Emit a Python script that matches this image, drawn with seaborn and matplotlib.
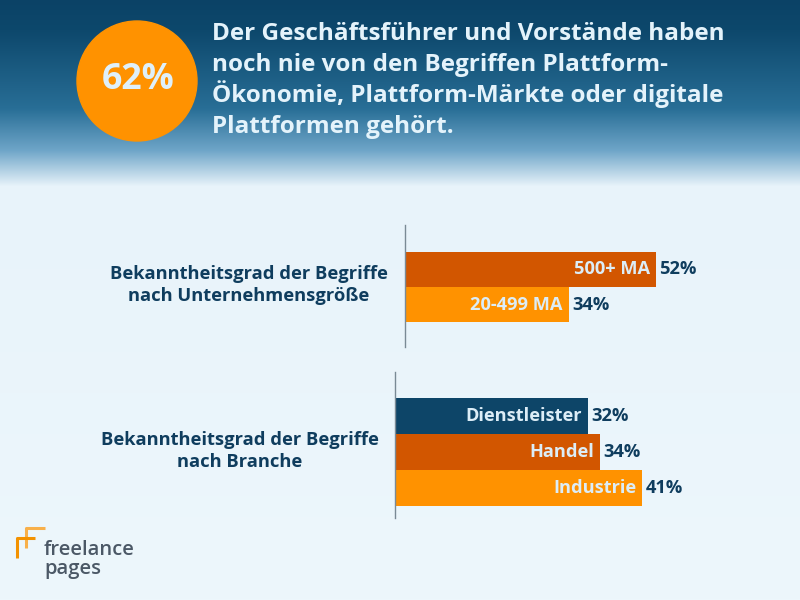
import numpy as np
import pandas as pd
import matplotlib
matplotlib.use("Agg")
import matplotlib.pyplot as plt
from matplotlib.patches import Circle
import seaborn as sns

sns.set_style("white")
plt.rcParams['font.family'] = ['Open Sans', 'DejaVu Sans']

# Data
headline_value = "62%"
headline_lines = ["Der Geschäftsführer und Vorstände haben",
                  "noch nie von den Begriffen Plattform-",
                  "Ökonomie, Plattform-Märkte oder digitale",
                  "Plattformen gehört."]

size_title = "Bekanntheitsgrad der Begriffe\nnach Unternehmensgröße"
size_labels = ["500+ MA", "20-499 MA"]
size_values = [52, 34]

branch_title = "Bekanntheitsgrad der Begriffe\nnach Branche"
branch_labels = ["Dienstleister", "Handel", "Industrie"]
branch_values = [32, 34, 41]

# Colours
navy = "#0d4568"
dark_orange = "#d25600"
orange = "#ff9200"
bar_text = "#dcedf7"
value_text = "#0f3d5e"
bg = "#edf7fc"

W, H = 800, 600
fig = plt.figure(figsize=(8, 6), dpi=100)
fig.patch.set_facecolor(bg)
renderer = fig.canvas.get_renderer()


def rect(left, top, right, bottom):
    return [left / W, 1 - bottom / H, (right - left) / W, (bottom - top) / H]


def pos(x, y):
    return x / W, 1 - y / H


def fit_width(txt, target):
    # scale the font so the text is as wide as in the reference (pixels)
    w = txt.get_window_extent(renderer).width
    txt.set_fontsize(txt.get_fontsize() * target / w)


# background gradient in the header
bg_ax = fig.add_axes([0, 0, 1, 1], zorder=0)
ys = np.linspace(0, 1, 600)
stops_y = [0, 0.05, 0.18, 0.25, 0.31, 1]
stops_c = [(11, 66, 102), (13, 72, 108), (40, 110, 150), (110, 165, 200), (232, 243, 250), (237, 247, 252)]
cols = np.array([[np.interp(y, stops_y, [c[k] for c in stops_c]) for k in range(3)] for y in ys]) / 255
bg_ax.imshow(cols[:, None, :], aspect='auto', extent=[0, 1, 0, 1])
bg_ax.set_axis_off()

# headline circle
head_ax = fig.add_axes([0, 0, 1, 1], zorder=1)
head_ax.set_xlim(0, W)
head_ax.set_ylim(H, 0)
head_ax.set_axis_off()
head_ax.add_patch(Circle((137, 81), 60, color=orange))
t = head_ax.text(138, 80, headline_value, ha='center', va='center', fontsize=27,
                 fontweight='bold', color="#dff0fa")
fit_width(t, 73)
line_size = None
for i, line in enumerate(headline_lines):
    t = head_ax.text(212, 40 + 31 * i, line, ha='left', va='baseline', fontsize=16.5,
                     fontweight='bold', color="#e4f3fb")
    if i == 0:
        fit_width(t, 512)
        line_size = t.get_fontsize()
    t.set_fontsize(line_size)

label_size = {}


def draw_group(ax, labels, values, colors, xmax, ylim, title, title_xy):
    df = pd.DataFrame({'label': labels, 'value': values})
    sns.barplot(data=df, x='value', y='label', hue='label', palette=colors, saturation=1,
                legend=False, width=1, linewidth=0, orient='h', ax=ax)
    ax.set_xlim(0, xmax)
    ax.set_ylim(*ylim)
    ax.set_facecolor('none')
    for s in ['top', 'right', 'bottom']:
        ax.spines[s].set_visible(False)
    ax.spines['left'].set_color('#7a8a95')
    ax.spines['left'].set_linewidth(1)
    ax.set_xticks([])
    ax.set_yticks(list(ylim))
    ax.set_yticklabels([])
    ax.tick_params(axis='y', length=4, width=1, color='#7a8a95', direction='out')
    ax.set_xlabel('')
    ax.set_ylabel('')
    for i, (lab, val) in enumerate(zip(labels, values)):
        ax.annotate(lab, xy=(val, i), xytext=(-4.5, 0), textcoords='offset points',
                    ha='right', va='center', fontsize=label_size['bar'], fontweight='bold',
                    color=bar_text)
        ax.annotate(f"{val}%", xy=(val, i), xytext=(2.5, 0), textcoords='offset points',
                    ha='left', va='center', fontsize=label_size['bar'], fontweight='bold',
                    color=value_text)
    fig.text(*pos(*title_xy), title, ha='center', va='center', fontsize=label_size['title'],
             fontweight='bold', color=value_text, linespacing=1.3)


# work out the label font sizes from reference widths
probe = fig.text(0, 0, "Dienstleister", fontsize=13, fontweight='bold')
fit_width(probe, 116)
label_size['bar'] = probe.get_fontsize()
probe.set_text("Bekanntheitsgrad der Begriffe")
probe.set_fontsize(13)
fit_width(probe, 277)
label_size['title'] = probe.get_fontsize()
probe.remove()

ax1 = fig.add_axes(rect(404.5, 225, 791.5, 347), zorder=2)
draw_group(ax1, size_labels, size_values, [dark_orange, orange], 80, (2.214, -1.271),
           size_title, (249, 285))

ax2 = fig.add_axes(rect(395, 372, 787, 518), zorder=2)
draw_group(ax2, branch_labels, branch_values, [navy, dark_orange, orange], 65, (2.83, -1.22),
           branch_title, (240, 451))

# logo
logo_ax = fig.add_axes([0, 0, 1, 1], zorder=1)
logo_ax.set_xlim(0, W)
logo_ax.set_ylim(H, 0)
logo_ax.set_axis_off()
logo_ax.plot([26, 26, 45], [548, 528, 528], color="#f8b04a", lw=2.2, solid_capstyle='butt')
logo_ax.plot([17, 17, 35], [558, 538, 538], color="#f39200", lw=2.2, solid_capstyle='butt')
probe = logo_ax.text(0, 0, "freelance", fontsize=15, fontweight='semibold')
fit_width(probe, 91)
logo_size = probe.get_fontsize()
probe.remove()
logo_ax.text(44, 540, "freelance\npages", ha='left', va='top', fontsize=logo_size,
             fontweight='semibold', color="#4b5866", linespacing=0.95)

fig.savefig("out.png", dpi=100, facecolor=fig.get_facecolor())
